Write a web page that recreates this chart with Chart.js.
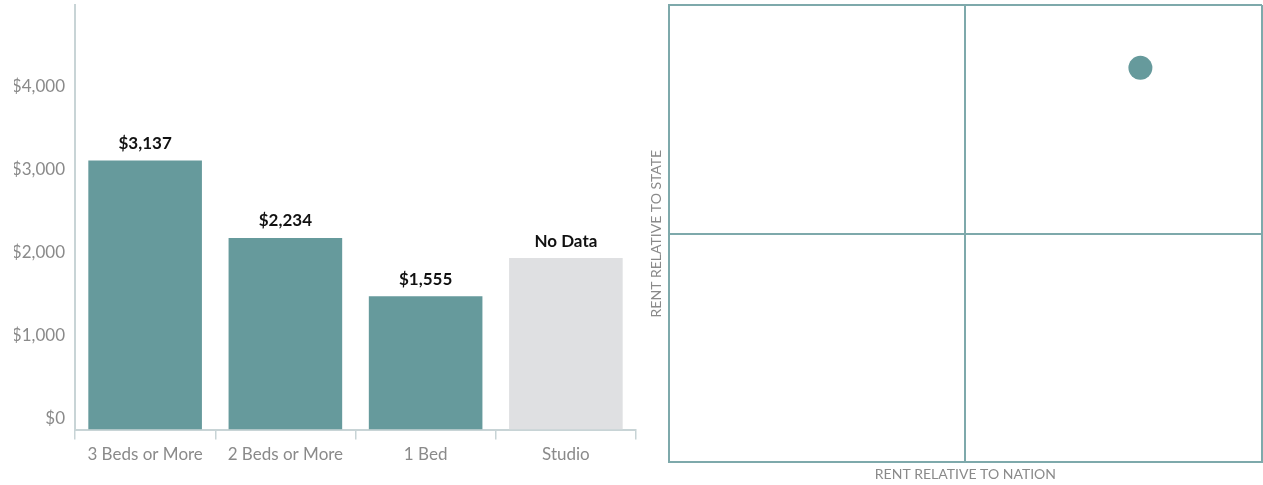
<!DOCTYPE html>
<html>
<head>
<meta charset="utf-8">
<script src="https://cdn.jsdelivr.net/npm/chart.js@4"></script>
<style>
  body { margin: 0; background: #fff; }
  #wrap { position: relative; width: 1263px; height: 485px; }
  #bars { position: absolute; left: 0; top: 0; }
  #quad { position: absolute; left: 640px; top: 0; }
</style>
</head>
<body>
<div id="wrap">
  <canvas id="bars" width="640" height="485"></canvas>
  <canvas id="quad" width="623" height="485"></canvas>
</div>
<script>
// data
const categories = ['3 Beds or More', '2 Beds or More', '1 Bed', 'Studio'];
const rents = [3137, 2234, 1555, 2000];      // studio bar is a placeholder height
const rentLabels = ['$3,137', '$2,234', '$1,555', 'No Data'];
const hasData = [true, true, true, false];
const yTicks = [0, 1000, 2000, 3000, 4000];
const position = [{ x: 0.59, y: 0.725 }];    // rent vs nation (x), vs state (y)

const TEAL = '#669a9c';
const NODATA = '#dfe0e2';
const LABEL_GRAY = '#8a8a8a';
const LINE = '#7ea9ab';
const AXIS = '#c8d4d6';

Chart.defaults.font.family = 'Lato, "Open Sans", sans-serif';
Chart.defaults.color = LABEL_GRAY;

// value labels above bars
const barLabels = {
    id: 'barLabels',
    afterDatasetsDraw(chart) {
        const ctx = chart.ctx;
        const meta = chart.getDatasetMeta(0);
        ctx.save();
        ctx.font = 'bold 17px Lato, sans-serif';
        ctx.fillStyle = '#111';
        ctx.textAlign = 'center';
        ctx.textBaseline = 'middle';
        meta.data.forEach((bar, i) => {
            ctx.fillText(rentLabels[i], bar.x, bar.y - 17);
        });
        ctx.restore();
    }
};

// keep the axes from pushing the plot area in
function noScalePadding(scale) {
    scale.paddingTop = 0;
    scale.paddingBottom = 0;
    scale.paddingLeft = 0;
    scale.paddingRight = 0;
}

new Chart(document.getElementById('bars'), {
    type: 'bar',
    data: {
        labels: categories,
        datasets: [{
            data: rents,
            backgroundColor: hasData.map(h => h ? TEAL : NODATA),
            barPercentage: 0.9,
            categoryPercentage: 0.9,
            yAxisID: 'y'
        }]
    },
    options: {
        responsive: false,
        animation: false,
        layout: { autoPadding: false, padding: { top: 5, left: 14, right: 4, bottom: 15 } },
        plugins: { legend: { display: false }, tooltip: { enabled: false } },
        scales: {
            x: {
                afterFit: noScalePadding,
                grid: { display: true, drawOnChartArea: false, tickLength: 10, color: AXIS, lineWidth: 1.5 },
                border: { display: true, color: AXIS, width: 2 },
                ticks: { font: { size: 17 }, color: LABEL_GRAY, padding: 5 }
            },
            // data scale
            y: {
                display: false,
                min: 0,
                max: 4950
            },
            // label scale (labels sit slightly off the data scale in the source)
            yl: {
                position: 'left',
                min: -132,
                max: 4976,
                afterBuildTicks(scale) { scale.ticks = yTicks.map(v => ({ value: v })); },
                afterFit(scale) {
                    noScalePadding(scale);
                    scale.width = 61;
                },
                grid: { display: false, drawTicks: false },
                border: { display: true, color: AXIS, width: 2 },
                ticks: {
                    font: { size: 17 },
                    color: LABEL_GRAY,
                    padding: 10,
                    callback: v => '$' + v.toLocaleString('en-US')
                }
            }
        }
    },
    plugins: [barLabels]
});

const quadGrid = {
    display: true,
    color: LINE,
    lineWidth: 2,
    drawTicks: false
};

new Chart(document.getElementById('quad'), {
    type: 'scatter',
    data: {
        datasets: [{
            data: position,
            backgroundColor: TEAL,
            borderWidth: 0,
            pointRadius: 12,
            pointHoverRadius: 12
        }]
    },
    options: {
        responsive: false,
        animation: false,
        layout: { autoPadding: false, padding: { top: 5, left: 4, right: 1, bottom: 0 } },
        plugins: { legend: { display: false }, tooltip: { enabled: false } },
        scales: {
            x: {
                min: -1, max: 1,
                afterFit: noScalePadding,
                ticks: { display: false, stepSize: 1 },
                grid: quadGrid,
                border: { display: true, color: LINE, width: 2 },
                title: {
                    display: true,
                    text: 'RENT RELATIVE TO NATION',
                    color: LABEL_GRAY,
                    font: { size: 14 },
                    padding: { top: 4, bottom: 2 }
                }
            },
            y: {
                min: -1, max: 1,
                afterFit: noScalePadding,
                ticks: { display: false, stepSize: 1 },
                grid: quadGrid,
                border: { display: true, color: LINE, width: 2 },
                title: {
                    display: true,
                    text: 'RENT RELATIVE TO STATE',
                    color: LABEL_GRAY,
                    font: { size: 14 },
                    padding: { top: 4, bottom: 4 }
                }
            }
        }
    }
});
</script>
</body>
</html>
